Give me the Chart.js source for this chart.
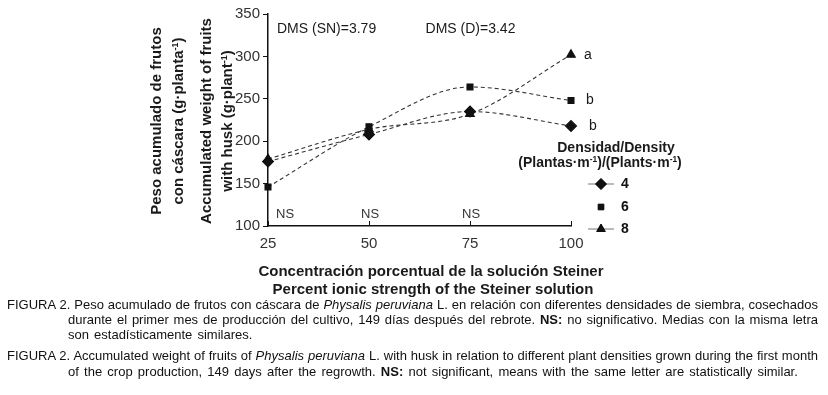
<!DOCTYPE html>
<html><head><meta charset="utf-8">
<script src="https://cdn.jsdelivr.net/npm/chart.js@4.4.0/dist/chart.umd.min.js"></script>
<style>
html,body{margin:0;padding:0;background:#fff;}
#wrap{position:relative;width:828px;height:395px;overflow:hidden;font-family:"Liberation Sans",Arial,sans-serif;color:#1a1a1a;}
#c{position:absolute;left:0;top:0;}
.ytitle{position:absolute;font-weight:bold;font-size:15px;transform:translate(-50%,-50%) rotate(-90deg);white-space:nowrap;line-height:1;}
.xt{position:absolute;font-weight:bold;font-size:15px;transform:translateX(-50%);white-space:nowrap;line-height:1;}
.cap{position:absolute;font-family:"Liberation Sans",Arial,sans-serif;font-size:13px;line-height:1;color:#111;white-space:nowrap;}
.j{text-align:justify;text-align-last:justify;}
sup{font-size:0.6em;vertical-align:0.55em;line-height:0;}
.leg{position:absolute;font-weight:bold;font-size:14px;transform:translateX(-50%);white-space:nowrap;}
</style></head>
<body><div id="wrap">
<canvas id="c" width="828" height="395"></canvas>
<div class="ytitle" style="left:155px;top:121px;">Peso acumulado de frutos</div>
<div class="ytitle" style="left:177px;top:121px;">con cáscara (g·planta<sup>-1</sup>)</div>
<div class="ytitle" style="left:205px;top:121px;">Accumulated weight of fruits</div>
<div class="ytitle" style="left:226px;top:121px;">with husk (g·plant<sup>-1</sup>)</div>
<div class="xt" style="left:431px;top:263px;">Concentración porcentual de la solución Steiner</div>
<div class="xt" style="left:433px;top:281px;">Percent ionic strength of the Steiner solution</div>
<div class="leg" style="left:616px;top:139px;">Densidad/Density</div>
<div class="leg" style="left:600px;top:154px;">(Plantas·m<sup>-1</sup>)/(Plants·m<sup>-1</sup>)</div>
<div class="cap j" style="left:7px;top:298px;width:811px;">FIGURA 2. Peso acumulado de frutos con cáscara de <i>Physalis peruviana</i> L. en relación con diferentes densidades de siembra, cosechados</div>
<div class="cap j" style="left:68px;top:313px;width:750px;">durante el primer mes de producción del cultivo, 149 días después del rebrote. <b>NS:</b> no significativo. Medias con la misma letra</div>
<div class="cap" style="left:68px;top:328px;word-spacing:1.5px;">son estadísticamente similares.</div>
<div class="cap j" style="left:7px;top:349px;width:811px;">FIGURA 2. Accumulated weight of fruits of <i>Physalis peruviana</i> L. with husk in relation to different plant densities grown during the first month</div>
<div class="cap" style="left:68px;top:365px;word-spacing:1.6px;">of the crop production, 149 days after the regrowth. <b>NS:</b> not significant, means with the same letter are statistically similar.</div>
</div>
<script>
const concentrations = [25, 50, 75, 100];
const density4 = [176, 208, 235, 218];
const density6 = [146, 217, 264, 248];
const density8 = [179, 214, 232, 302];
const seriesLabels = ['4', '6', '8'];
const yTicks = [100, 150, 200, 250, 300, 350];
const letters = ['b', 'b', 'a'];
const nsPositions = [25, 50, 75];

function toXY(vals){ return concentrations.map((x,i)=>({x:x,y:vals[i]})); }

const annot = {
  id:'annot',
  afterDraw(chart){
    const {ctx, scales:{x,y}} = chart;
    ctx.save();
    ctx.fillStyle = '#1a1a1a';
    ctx.font = '14px "Liberation Sans", Arial, sans-serif';
    ctx.textBaseline = 'middle';
    ctx.textAlign = 'left';
    ctx.fillText('DMS (SN)=3.79', x.getPixelForValue(25)+9, y.getPixelForValue(332));
    ctx.fillText('DMS (D)=3.42', x.getPixelForValue(64), y.getPixelForValue(332));
    ctx.font = '13px "Liberation Sans", Arial, sans-serif';
    ctx.fillStyle = '#333';
    nsPositions.forEach(v=>{
      ctx.fillText('NS', x.getPixelForValue(v)+(v===25?8:-8), y.getPixelForValue(114));
    });
    ctx.font = '14px "Liberation Sans", Arial, sans-serif';
    ctx.fillStyle = '#1a1a1a';
    const last = [density4[3], density6[3], density8[3]];
    const offs = [18,15,13];
    last.forEach((v,i)=>{
      ctx.fillText(letters[i], x.getPixelForValue(100)+offs[i], y.getPixelForValue(v));
    });
    // legend symbols
    const styles = ['rectRot','rect','triangle'];
    const radii = [5.5,4,5];
    const ly = [184, 207, 229];
    styles.forEach((s,i)=>{
      ctx.strokeStyle = '#777';
      ctx.lineWidth = 1;
      ctx.beginPath();
      if(i!==1){ctx.moveTo(588, ly[i]); ctx.lineTo(614, ly[i]);}
      ctx.stroke();
      ctx.fillStyle = '#111';
      ctx.strokeStyle = '#111';
      Chart.helpers.drawPoint(ctx, {pointStyle:s, radius:radii[i], rotation:0, borderWidth:1}, 601, ly[i]);
      ctx.fill();
      ctx.font = 'bold 14px "Liberation Sans", Arial, sans-serif';
      ctx.fillText(seriesLabels[i], 621, ly[i]);
    });
    // inward x ticks
    ctx.strokeStyle = '#111';
    ctx.beginPath();
    concentrations.forEach(v=>{
      const px = Math.round(x.getPixelForValue(v))+0.5;
      ctx.moveTo(px, y.bottom); ctx.lineTo(px, y.bottom-5);
    });
    ctx.stroke();
    ctx.restore();
  }
};

const common = {borderColor:'#333', borderWidth:1.1, borderDash:[4,3], backgroundColor:'#111', pointBorderColor:'#111', pointBackgroundColor:'#111', tension:0.4, cubicInterpolationMode:'monotone', fill:false, clip:false};
new Chart(document.getElementById('c'), {
  type:'line',
  data:{datasets:[
    Object.assign({label:seriesLabels[0], data:toXY(density4), pointStyle:'rectRot', pointRadius:5.5}, common),
    Object.assign({label:seriesLabels[1], data:toXY(density6), pointStyle:'rect', pointRadius:4.2}, common),
    Object.assign({label:seriesLabels[2], data:toXY(density8), pointStyle:'triangle', pointRadius:5}, common)
  ]},
  options:{
    responsive:false, animation:false, devicePixelRatio:1,
    layout:{padding:{left:0, right:257, top:14, bottom:0}},
    plugins:{legend:{display:false}, tooltip:{enabled:false}},
    scales:{
      x:{type:'linear', min:25, max:100,
        afterBuildTicks(s){ s.ticks = concentrations.map(v=>({value:v})); },
        grid:{display:true, drawOnChartArea:false, drawTicks:false, color:'#111'},
        border:{color:'#111', width:1.5},
        ticks:{padding:9, color:'#333', font:{family:'"Liberation Sans", Arial, sans-serif', size:15}},
        afterFit(s){ s.height = 395-226; }
      },
      y:{min:100, max:350,
        afterBuildTicks(s){ s.ticks = yTicks.map(v=>({value:v})); },
        grid:{display:true, drawOnChartArea:false, tickLength:5, color:'#111'},
        border:{color:'#111', width:1.5},
        ticks:{padding:3, color:'#333', font:{family:'"Liberation Sans", Arial, sans-serif', size:15}},
        afterFit(s){ s.width = 268; }
      }
    }
  },
  plugins:[annot]
});
</script>
</body></html>
